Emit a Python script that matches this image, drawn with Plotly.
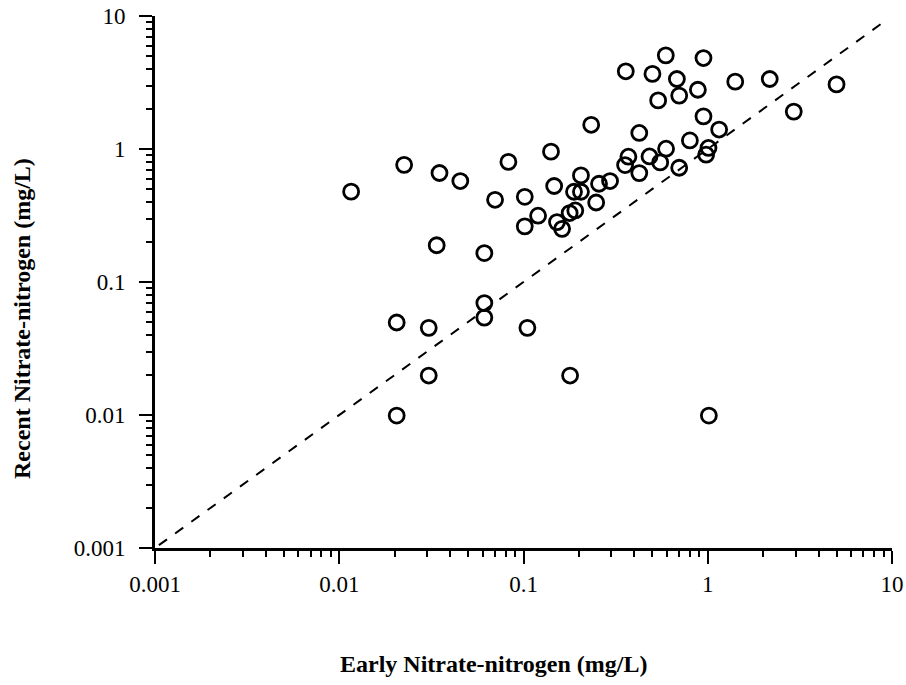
import plotly.graph_objects as go

early = [0.0116, 0.0225, 0.035, 0.0454, 0.0828, 0.0701, 0.1016, 0.141, 0.1467, 0.233,
         0.205, 0.188, 0.205, 0.257, 0.295, 0.248, 0.12, 0.1016, 0.152, 0.162,
         0.178, 0.191, 0.359, 0.425, 0.371, 0.356, 0.425, 0.592, 0.501, 0.948,
         0.68, 0.70, 0.538, 0.884, 1.41, 2.17, 5.0, 2.93, 0.948, 1.153,
         0.80, 0.594, 0.483, 0.552, 0.70, 1.009, 0.98, 0.0338, 0.0613, 0.0613,
         0.0613, 0.0205, 0.0306, 0.105, 0.0306, 0.179, 0.0205, 1.014]
recent = [0.478, 0.76, 0.66, 0.574, 0.80, 0.415, 0.437, 0.955, 0.527, 1.52,
          0.633, 0.477, 0.477, 0.548, 0.574, 0.396, 0.315, 0.262, 0.282, 0.251,
          0.330, 0.345, 3.84, 1.32, 0.875, 0.757, 0.659, 5.06, 3.67, 4.83,
          3.36, 2.52, 2.32, 2.79, 3.21, 3.36, 3.06, 1.91, 1.76, 1.40,
          1.16, 1.005, 0.879, 0.793, 0.723, 1.018, 0.906, 0.189, 0.165, 0.0694,
          0.054, 0.0496, 0.0452, 0.0452, 0.0198, 0.0198, 0.0099, 0.0099]

line_x = [0.00105, 9.0]
line_y = [0.00105, 9.0]

tick_vals = [0.001, 0.01, 0.1, 1, 10]
tick_text = ["0.001", "0.01", "0.1", "1", "10"]

x_title = "Early Nitrate-nitrogen (mg/L)"
y_title = "Recent Nitrate-nitrogen (mg/L)"

FONT = "Liberation Serif"

fig = go.Figure()
fig.add_trace(go.Scatter(
    x=early, y=recent, mode="markers",
    marker=dict(symbol="circle-open", size=15, color="black",
                line=dict(width=2.8, color="black")),
    showlegend=False, hoverinfo="skip", cliponaxis=False))
fig.add_trace(go.Scatter(
    x=line_x, y=line_y, mode="lines",
    line=dict(color="black", width=2, dash="10px,10px"),
    showlegend=False, hoverinfo="skip"))

axis_common = dict(
    type="log", range=[-3, 1], tickvals=tick_vals, ticktext=tick_text,
    showgrid=False, zeroline=False, showline=True, linecolor="black", linewidth=3,
    ticks="outside", ticklen=13, tickwidth=2, tickcolor="black", automargin=False,
    tickfont=dict(family=FONT, size=23, color="black"),
    minor=dict(ticks="outside", ticklen=6, tickwidth=2, tickcolor="black", dtick="D1", showgrid=False),
)
fig.update_xaxes(**axis_common)
fig.update_yaxes(**axis_common, ticklabelstandoff=9)

fig.update_layout(
    width=906, height=685,
    margin=dict(l=155, r=14, t=16, b=137, autoexpand=False),
    paper_bgcolor="white", plot_bgcolor="white",
    font=dict(family=FONT, color="black"),
    annotations=[
        dict(text="<b>" + x_title + "</b>", xref="paper", yref="paper",
             x=0.46, y=-0.218, xanchor="center", yanchor="middle", showarrow=False,
             font=dict(family=FONT, size=24, color="black")),
        dict(text="<b>" + y_title + "</b>", xref="paper", yref="paper",
             x=-0.1805, y=0.4323, xanchor="center", yanchor="middle", showarrow=False,
             textangle=-90, font=dict(family=FONT, size=24, color="black")),
    ],
)

fig.write_html("out.html")
